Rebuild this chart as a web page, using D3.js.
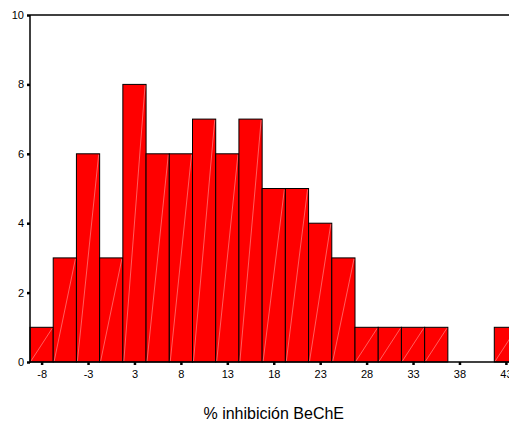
<!DOCTYPE html>
<html>
<head>
<meta charset="utf-8">
<script src="https://cdn.jsdelivr.net/npm/d3@7"></script>
<style>
body { margin: 0; background: #fff; }
text { font-family: Arial, "Liberation Sans", sans-serif; fill: #000; }
</style>
</head>
<body>
<div id="chart"></div>
<script>
// bin counts, left to right
const counts = [1, 3, 6, 3, 8, 6, 6, 7, 6, 7, 5, 5, 4, 3, 1, 1, 1, 1, 0, 0, 1];
// labels shown under every second bin
const xLabels = ["-8", "-3", "3", "8", "13", "18", "23", "28", "33", "38", "43"];
const yTicks = [0, 2, 4, 6, 8, 10];

const width = 509, height = 421;
const svg = d3.select("#chart").append("svg")
    .attr("width", width)
    .attr("height", height);

const plotL = 30, plotR = 517.5, plotT = 15, plotB = 362;

const x = d3.scaleLinear().domain([0, counts.length]).range([plotL, plotR]);
const y = d3.scaleLinear().domain([0, 10]).range([plotB, plotT]);

// frame top line
svg.append("line")
    .attr("x1", plotL).attr("x2", width + 10)
    .attr("y1", plotT).attr("y2", plotT)
    .attr("stroke", "#000").attr("stroke-width", 1.3);

// bars
const bars = svg.selectAll(".bar")
    .data(counts.map((c, i) => ({ i: i, c: c })).filter(d => d.c > 0))
    .enter()
    .append("g")
    .attr("class", "bar");

bars.append("rect")
    .attr("x", d => x(d.i))
    .attr("y", d => y(d.c))
    .attr("width", d => x(d.i + 1) - x(d.i))
    .attr("height", d => plotB - y(d.c))
    .attr("fill", "#ff0000")
    .attr("stroke", "#000")
    .attr("stroke-width", 1);

// faint diagonal hatch in each bar
bars.append("line")
    .attr("x1", d => x(d.i) + 1)
    .attr("y1", plotB - 1)
    .attr("x2", d => x(d.i + 1) - 1)
    .attr("y2", d => y(d.c) + 1)
    .attr("stroke", "#ff9d9d")
    .attr("stroke-width", 0.6);

// y axis
const yAxis = svg.append("g")
    .attr("transform", `translate(${plotL},0)`)
    .call(d3.axisLeft(y).tickValues(yTicks).tickSize(3).tickPadding(3));
yAxis.select(".domain").remove();
yAxis.selectAll(".tick line").attr("stroke", "#000").attr("stroke-width", 2.5);
yAxis.selectAll(".tick text").style("font-size", "11px")
    .style("font-family", "Arial, 'Liberation Sans', sans-serif");
svg.append("line")
    .attr("x1", plotL).attr("x2", plotL)
    .attr("y1", plotT).attr("y2", plotB + 1)
    .attr("stroke", "#000").attr("stroke-width", 1.5);

// x axis
const tickPos = xLabels.map((l, k) => 2 * k + 0.5);
const xAxis = svg.append("g")
    .attr("transform", `translate(0,${plotB})`)
    .call(d3.axisBottom(x).tickValues(tickPos)
        .tickFormat((d, k) => xLabels[k]).tickSize(3).tickPadding(5));
xAxis.select(".domain").remove();
xAxis.selectAll(".tick line").attr("stroke", "#000").attr("stroke-width", 2.5);
xAxis.selectAll(".tick text").style("font-size", "11px")
    .style("font-family", "Arial, 'Liberation Sans', sans-serif");
svg.append("line")
    .attr("x1", plotL).attr("x2", width + 10)
    .attr("y1", plotB).attr("y2", plotB)
    .attr("stroke", "#000").attr("stroke-width", 1.5);

// axis title
svg.append("text")
    .attr("x", (plotL + plotR) / 2)
    .attr("y", 419)
    .attr("text-anchor", "middle")
    .style("font-size", "16px")
    .text("% inhibición BeChE");
</script>
</body>
</html>
